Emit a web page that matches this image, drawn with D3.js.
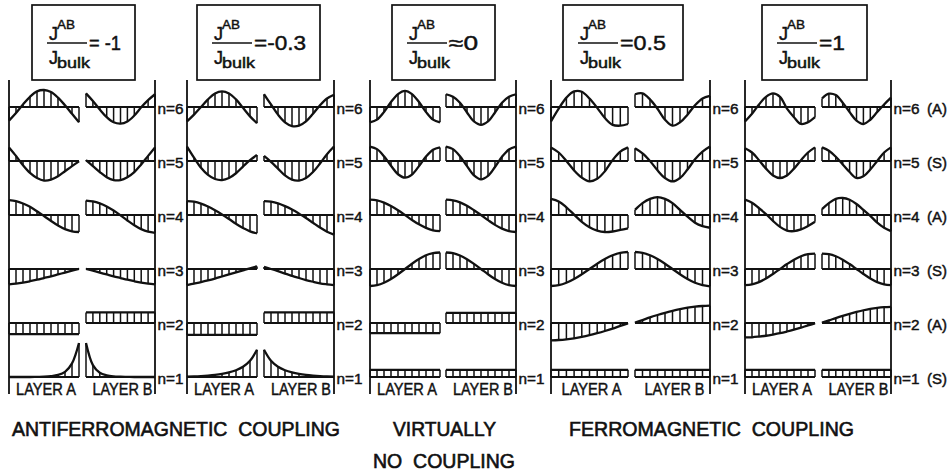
<!DOCTYPE html>
<html>
<head>
<meta charset="utf-8">
<script src="https://cdn.jsdelivr.net/npm/d3@7"></script>
<style>
  body { margin: 0; background: #fff; }
  svg { display: block; }
  text { font-family: "Liberation Sans", Arial, sans-serif; fill: #111; stroke: #111; stroke-width: 0.45px; }
</style>
</head>
<body>
<div id="chart-area"></div>
<script>
// ---- data ----
const ratioLabels = ["= -1", "=-0.3", "\u22480", "=0.5", "=1"];
const modes = [1, 2, 3, 4, 5, 6];
const modeTags = ["(S)", "(A)", "(S)", "(A)", "(S)", "(A)"];
const sites = [0, 1, 2, 3, 4, 5, 6, 7, 8, 9, 10];
const layerNames = ["LAYER A", "LAYER B"];
const titles = ["ANTIFERROMAGNETIC  COUPLING", "VIRTUALLY", "NO  COUPLING", "FERROMAGNETIC  COUPLING"];

// site amplitudes, rows n=1..6
const p1A = [
  [0, 0, 0, 0, 0.01, 0.02, 0.05, 0.12, 0.3, 0.8, 2.0],
  [-0.65, -0.65, -0.65, -0.65, -0.65, -0.65, -0.65, -0.65, -0.65, -0.65, -0.65],
  [-0.9, -0.86, -0.8, -0.72, -0.63, -0.53, -0.43, -0.32, -0.21, -0.1, 0.01],
  [0.88, 0.82, 0.68, 0.48, 0.22, -0.06, -0.35, -0.62, -0.83, -0.96, -1.0],
  [0.8, 0.3, -0.25, -0.7, -1.0, -1.15, -1.1, -0.9, -0.6, -0.3, -0.02],
  [-0.8, -0.35, 0.15, 0.6, 0.92, 1.0, 0.88, 0.55, 0.1, -0.4, -0.9]
];
const p1B = [
  [2.0, 0.7, 0.25, 0.1, 0.04, 0.02, 0.01, 0, 0, 0, 0],
  [0.62, 0.62, 0.62, 0.62, 0.62, 0.62, 0.62, 0.62, 0.62, 0.62, 0.62],
  [0.01, -0.1, -0.21, -0.32, -0.43, -0.53, -0.63, -0.72, -0.8, -0.86, -0.9],
  [0.85, 0.8, 0.68, 0.5, 0.26, -0.02, -0.32, -0.6, -0.83, -0.98, -1.05],
  [0.05, -0.3, -0.65, -0.95, -1.12, -1.12, -0.95, -0.65, -0.2, 0.3, 0.8],
  [0.8, 0.35, -0.15, -0.6, -0.9, -0.98, -0.85, -0.5, -0.02, 0.4, 0.75]
];
const p2A = [
  [0.02, 0.03, 0.05, 0.08, 0.12, 0.18, 0.27, 0.4, 0.6, 0.95, 1.6],
  [-0.7, -0.7, -0.7, -0.7, -0.7, -0.7, -0.7, -0.7, -0.7, -0.7, -0.7],
  [-0.95, -0.86, -0.77, -0.67, -0.56, -0.44, -0.32, -0.2, -0.08, 0.04, 0.15],
  [0.82, 0.78, 0.67, 0.5, 0.28, 0.03, -0.24, -0.52, -0.77, -0.96, -1.08],
  [0.85, 0.2, -0.4, -0.82, -1.06, -1.12, -1.0, -0.72, -0.33, 0.05, 0.35],
  [-0.85, -0.45, 0.0, 0.45, 0.8, 0.92, 0.8, 0.45, -0.05, -0.55, -0.95]
];
const p2B = [
  [1.6, 0.95, 0.6, 0.4, 0.27, 0.18, 0.12, 0.08, 0.05, 0.03, 0.02],
  [0.62, 0.62, 0.62, 0.62, 0.62, 0.62, 0.62, 0.62, 0.62, 0.62, 0.62],
  [0.12, 0.0, -0.13, -0.27, -0.4, -0.53, -0.65, -0.75, -0.84, -0.9, -0.95],
  [0.82, 0.78, 0.68, 0.52, 0.32, 0.08, -0.18, -0.46, -0.74, -0.98, -1.15],
  [0.3, -0.05, -0.45, -0.85, -1.1, -1.15, -1.0, -0.65, -0.15, 0.4, 0.85],
  [0.75, 0.15, -0.45, -0.9, -1.12, -1.1, -0.85, -0.4, 0.1, 0.5, 0.72]
];
const p3A = [
  [0.42, 0.42, 0.42, 0.42, 0.42, 0.42, 0.42, 0.42, 0.42, 0.42, 0.42],
  [-0.6, -0.6, -0.6, -0.6, -0.6, -0.6, -0.6, -0.6, -0.6, -0.6, -0.6],
  [-1.0, -0.95, -0.81, -0.59, -0.31, 0, 0.31, 0.59, 0.81, 0.93, 0.97],
  [0.9, 0.86, 0.73, 0.53, 0.28, 0, -0.29, -0.55, -0.76, -0.9, -0.95],
  [0.85, 0.7, 0.28, -0.28, -0.78, -0.98, -0.8, -0.3, 0.26, 0.66, 0.8],
  [-0.9, -0.74, -0.29, 0.29, 0.76, 0.95, 0.76, 0.29, -0.29, -0.74, -0.9]
];
const p3B = [
  [0.42, 0.42, 0.42, 0.42, 0.42, 0.42, 0.42, 0.42, 0.42, 0.42, 0.42],
  [0.6, 0.6, 0.6, 0.6, 0.6, 0.6, 0.6, 0.6, 0.6, 0.6, 0.6],
  [0.97, 0.93, 0.79, 0.57, 0.3, 0, -0.31, -0.59, -0.81, -0.95, -1.0],
  [0.9, 0.86, 0.74, 0.54, 0.28, 0, -0.3, -0.58, -0.8, -0.95, -1.0],
  [0.85, 0.7, 0.28, -0.3, -0.85, -1.08, -0.88, -0.35, 0.25, 0.68, 0.85],
  [0.75, 0.6, 0.25, -0.32, -0.85, -1.05, -0.85, -0.32, 0.25, 0.6, 0.75]
];
const p4A = [
  [0.42, 0.42, 0.42, 0.42, 0.42, 0.42, 0.42, 0.42, 0.42, 0.42, 0.42],
  [-1.02, -1.0, -0.96, -0.9, -0.82, -0.72, -0.6, -0.47, -0.33, -0.17, -0.02],
  [-1.0, -0.95, -0.81, -0.59, -0.31, 0, 0.31, 0.59, 0.81, 0.95, 1.0],
  [0.95, 0.8, 0.45, 0.02, -0.4, -0.72, -0.92, -1.0, -0.97, -0.88, -0.78],
  [0.8, 0.5, 0.0, -0.55, -0.98, -1.2, -1.05, -0.6, 0.05, 0.55, 0.8],
  [-0.85, -0.1, 0.55, 0.92, 0.9, 0.5, -0.05, -0.65, -1.05, -1.1, -1.0]
];
const p4B = [
  [0.42, 0.42, 0.42, 0.42, 0.42, 0.42, 0.42, 0.42, 0.42, 0.42, 0.42],
  [0.02, 0.17, 0.33, 0.47, 0.6, 0.72, 0.82, 0.9, 0.96, 1.0, 1.02],
  [1.0, 0.95, 0.81, 0.59, 0.31, 0, -0.31, -0.59, -0.81, -0.95, -1.02],
  [0.3, 0.7, 0.95, 1.05, 0.95, 0.7, 0.3, -0.1, -0.45, -0.65, -0.75],
  [0.75, 0.45, 0.0, -0.55, -1.0, -1.2, -1.0, -0.5, 0.1, 0.55, 0.85],
  [0.75, 0.8, 0.45, -0.1, -0.75, -1.1, -0.9, -0.45, 0.1, 0.5, 0.65]
];
const p5A = [
  [0.42, 0.42, 0.42, 0.42, 0.42, 0.42, 0.42, 0.42, 0.42, 0.42, 0.42],
  [-0.85, -0.84, -0.8, -0.75, -0.68, -0.6, -0.5, -0.39, -0.27, -0.14, -0.02],
  [-0.95, -0.9, -0.77, -0.56, -0.29, 0, 0.29, 0.55, 0.75, 0.87, 0.9],
  [0.9, 0.72, 0.4, 0.05, -0.35, -0.7, -0.92, -0.95, -0.85, -0.65, -0.4],
  [0.75, 0.5, 0.05, -0.45, -0.85, -1.0, -0.85, -0.45, 0.05, 0.5, 0.8],
  [-0.85, -0.4, 0.15, 0.6, 0.8, 0.6, -0.1, -0.6, -1.0, -0.9, -0.6]
];
const p5B = [
  [0.42, 0.42, 0.42, 0.42, 0.42, 0.42, 0.42, 0.42, 0.42, 0.42, 0.42],
  [0.02, 0.15, 0.29, 0.42, 0.54, 0.65, 0.75, 0.83, 0.89, 0.93, 0.95],
  [0.9, 0.87, 0.75, 0.55, 0.29, 0, -0.29, -0.56, -0.77, -0.9, -0.95],
  [0.35, 0.7, 0.95, 1.0, 0.9, 0.65, 0.3, -0.05, -0.45, -0.75, -0.95],
  [0.8, 0.6, 0.25, -0.2, -0.65, -1.0, -0.9, -0.5, 0.0, 0.5, 0.8],
  [0.5, 0.78, 0.7, 0.25, -0.3, -0.8, -1.0, -0.75, -0.3, 0.15, 0.55]
];
const layerA = [p1A, p2A, p3A, p4A, p5A];
const layerB = [p1B, p2B, p3B, p4B, p5B];

// ---- layout ----
const panels = [
  { a: [9, 79],    b: [86, 155],  box: [32, 103],  eqW: 32 },
  { a: [187, 257], b: [264, 334], box: [197, 123], eqW: 52 },
  { a: [370, 440], b: [446, 516], box: [392, 103], eqW: 29 },
  { a: [551, 628], b: [635, 710], box: [563, 120], eqW: 46 },
  { a: [745, 815], b: [822, 891], box: [762, 105], eqW: 26 }
];
const titlePos = [
  { x: 12, y: 436, w: 328 },
  { x: 393, y: 436, w: 103 },
  { x: 373, y: 468, w: 142 },
  { x: 569, y: 436, w: 285 }
];
const ink = "#111";

const svg = d3.select("#chart-area")
  .append("svg")
    .attr("width", 951)
    .attr("height", 474);

const yRow = d3.scaleLinear().domain([6, 1]).range([107, 377]);
const amp = d3.scaleLinear().domain([-1, 1]).range([17, -17]);
const line = d3.line().curve(d3.curveCatmullRom.alpha(0.5));

panels.forEach((p, pi) => {
  const g = svg.append("g");

  // ratio box
  const bx = p.box[0];
  g.append("rect")
    .attr("x", bx).attr("y", 5)
    .attr("width", p.box[1]).attr("height", 75)
    .attr("fill", "none").attr("stroke", ink).attr("stroke-width", 1.7);
  g.append("text").attr("x", bx + 17).attr("y", 40).attr("font-size", 18).text("J");
  g.append("text").attr("x", bx + 25).attr("y", 29).attr("font-size", 13)
    .attr("textLength", 18).attr("lengthAdjust", "spacingAndGlyphs").text("AB");
  g.append("line")
    .attr("x1", bx + 15).attr("x2", bx + 55)
    .attr("y1", 43).attr("y2", 43)
    .attr("stroke", ink).attr("stroke-width", 1.5);
  g.append("text").attr("x", bx + 17).attr("y", 64).attr("font-size", 18).text("J");
  g.append("text").attr("x", bx + 25).attr("y", 68).attr("font-size", 14)
    .attr("textLength", 33).attr("lengthAdjust", "spacingAndGlyphs").text("bulk");
  g.append("text").attr("x", bx + 57).attr("y", 50).attr("font-size", 20)
    .attr("textLength", p.eqW).attr("lengthAdjust", "spacingAndGlyphs")
    .text(ratioLabels[pi]);

  // panel side lines
  [p.a[0], p.b[1]].forEach(xv => {
    g.append("line")
      .attr("x1", xv).attr("x2", xv).attr("y1", 80).attr("y2", 394)
      .attr("stroke", ink).attr("stroke-width", 1.8);
  });

  // mode profiles in both layers
  [[p.a, layerA[pi]], [p.b, layerB[pi]]].forEach(([ext, rows], li) => {
    const x = d3.scaleLinear().domain([0, 10]).range(ext);
    modes.forEach((n, mi) => {
      const y0 = yRow(n);
      const vals = rows[mi];

      g.selectAll(null)
        .data(sites)
        .enter()
        .append("line")
          .attr("x1", s => x(s)).attr("x2", s => x(s))
          .attr("y1", y0).attr("y2", s => y0 + amp(vals[s]))
          .attr("stroke", ink).attr("stroke-width", 1.5);

      g.append("line")
        .attr("x1", x(0)).attr("x2", x(10))
        .attr("y1", y0).attr("y2", y0)
        .attr("stroke", ink).attr("stroke-width", 1.8);

      g.append("path")
        .attr("d", line(sites.map(s => [x(s), y0 + amp(vals[s])])))
        .attr("fill", "none").attr("stroke", ink)
        .attr("stroke-width", 2.3).attr("stroke-linejoin", "round");
    });

    g.append("text")
      .attr("x", (ext[0] + ext[1]) / 2 + 2).attr("y", 395)
      .attr("font-size", 16.5).attr("text-anchor", "middle")
      .attr("textLength", 60).attr("lengthAdjust", "spacingAndGlyphs")
      .text(layerNames[li]);
  });

  // mode labels
  modes.forEach((n, mi) => {
    g.append("text")
      .attr("x", p.b[1] + 2.5).attr("y", yRow(n) + 7)
      .attr("font-size", 15)
      .attr("textLength", 26).attr("lengthAdjust", "spacingAndGlyphs")
      .text("n=" + n);
    if (pi === 4) {
      g.append("text")
        .attr("x", p.b[1] + 36).attr("y", yRow(n) + 7)
        .attr("font-size", 15)
        .text(modeTags[mi]);
    }
  });
});

// group titles
titles.forEach((t, i) => {
  svg.append("text")
    .attr("x", titlePos[i].x).attr("y", titlePos[i].y)
    .attr("font-size", 19.5)
    .style("stroke-width", "0.6px")
    .attr("textLength", titlePos[i].w).attr("lengthAdjust", "spacingAndGlyphs")
    .style("white-space", "pre")
    .text(t);
});
</script>
</body>
</html>
